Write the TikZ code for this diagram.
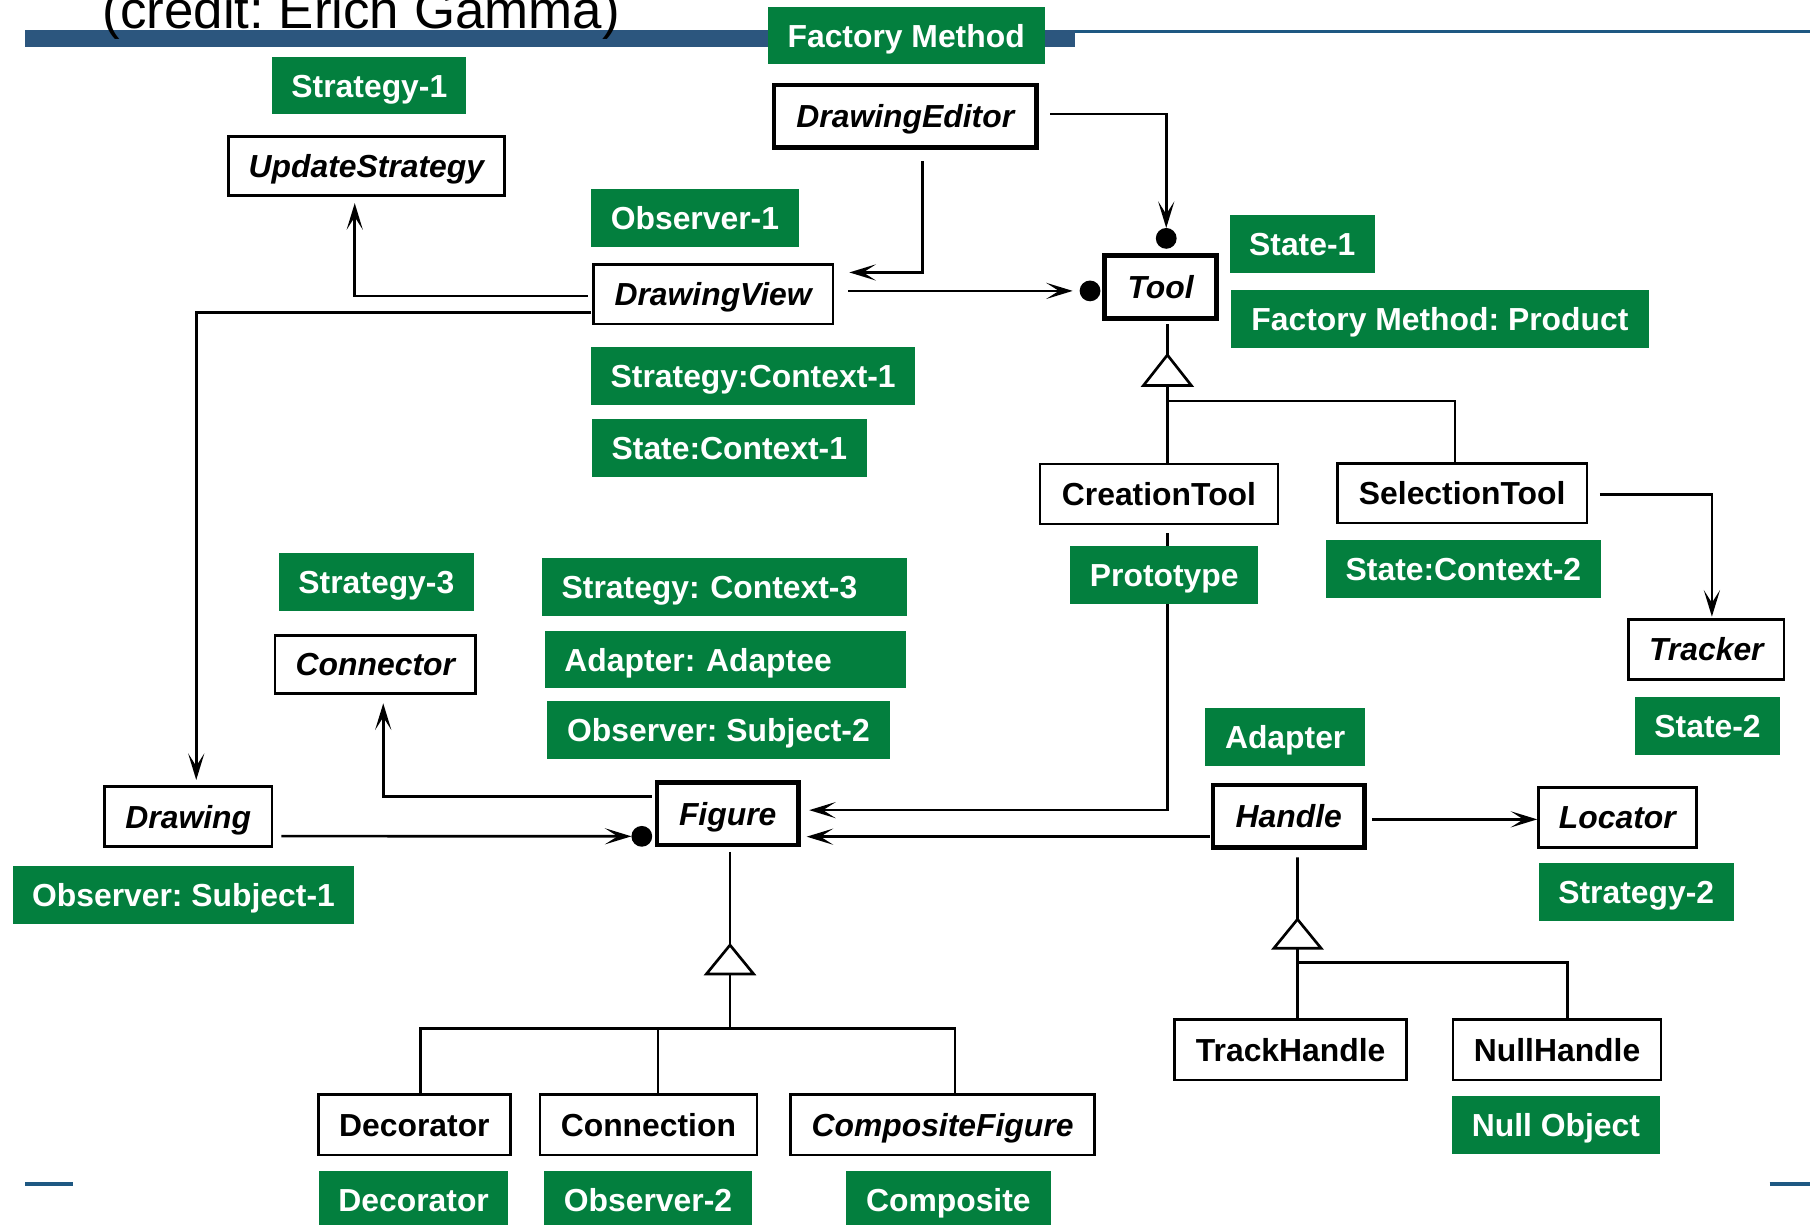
\documentclass[tikz,border=0pt]{standalone}
\usepackage{fontspec}
\setmainfont{Liberation Sans}
\usetikzlibrary{arrows.meta,calc}
\definecolor{tagGreen}{RGB}{3,127,62}
\definecolor{barBlue}{RGB}{44,86,126}
\definecolor{ruleBlue}{RGB}{30,88,130}
\newcommand{\umlfont}{\fontsize{13.8}{16}\selectfont\bfseries}
\frenchspacing

\begin{document}
\begin{tikzpicture}[x=0.5pt,y=-0.5pt,
  every node/.style={inner sep=0pt,outer sep=0pt},
  wh/.style 2 args={minimum width=#1*0.5pt,minimum height=#2*0.5pt},
  uml/.style={draw=black,fill=white,line width=1.15pt,font=\umlfont,
              text height=9.9pt,text depth=0pt},
  umlthick/.style={uml,line width=2pt},
  abstract/.style={font=\umlfont\itshape},
  tag/.style={fill=tagGreen,text=white,font=\umlfont,text height=9.9pt,text depth=0pt},
  tagleft/.style={tag,align=left,text width=#1*0.5pt},
  assoc/.style={line width=1.15pt,-{Stealth[length=11.5pt,width=7pt,inset=5.5pt]}},
  plain/.style={line width=1.15pt},
  gen/.style={draw=black,fill=white,line width=1.15pt},
  joint/.style={circle,fill=black,minimum size=9pt}
]
\useasboundingbox (0,0) rectangle (1568,1061);
\clip (0,0) rectangle (1568,1061);

% header rule and credit line
\fill[barBlue] (22,26) rectangle (931,40.4);
\draw[ruleBlue,line width=1.45pt] (931,27.45) -- (1568,27.45);
\node[anchor=base west,font=\fontsize{22.9}{26}\selectfont] (credit) at (89,24.7) {(credit: Erich Gamma)};

% footer marks
\draw[ruleBlue,line width=1.5pt] (22,1025.5) -- (63,1025.5);
\draw[ruleBlue,line width=1.5pt] (1533,1025.5) -- (1568,1025.5);

% classes
\node[umlthick,abstract,wh={227.5}{54.4}] (DE) at (784.25,100.8) {DrawingEditor};
\node[uml,abstract,wh={238.8}{51.4}] (US) at (317.4,143.7) {UpdateStrategy};
\node[uml,abstract,wh={207.5}{51.6}] (DV) at (617.75,254.8) {DrawingView};
\node[umlthick,abstract,wh={97}{54.3}] (Tool) at (1005.5,248.65) {Tool};
\node[uml,wh={206}{52}] (CT) at (1004,428) {CreationTool};
\node[uml,wh={216.2}{51.2}] (ST) at (1266.7,427.4) {SelectionTool};
\node[uml,abstract,wh={134.4}{52}] (Tr) at (1478.2,562.7) {Tracker};
\node[uml,abstract,wh={173.7}{50.7}] (Con) at (325.15,575.65) {Connector};
\node[uml,abstract,wh={145.2}{51.7}] (Dr) at (163.1,707.45) {Drawing};
\node[umlthick,abstract,wh={122.8}{54.3}] (Fig) at (630.4,704.85) {Figure};
\node[umlthick,abstract,wh={131.1}{54.4}] (Han) at (1116.45,707.2) {Handle};
\node[uml,abstract,wh={136.7}{51.9}] (Loc) at (1401.05,707.95) {Locator};
\node[uml,wh={201.2}{52.3}] (TH) at (1118.1,909.35) {TrackHandle};
\node[uml,wh={180.3}{52.3}] (NH) at (1348.85,909.35) {NullHandle};
\node[uml,wh={166}{52.5}] (Dec) at (359,974.25) {Decorator};
\node[uml,wh={188}{52.5}] (Cn) at (561.7,974.25) {Connection};
\node[uml,abstract,wh={263}{52.5}] (CF) at (816.5,974.25) {CompositeFigure};

% association ends
\node[joint] (dT) at (1010.3,206.5) {};
\node[joint] (dL) at (944.3,252) {};
\node[joint] (dF) at (556,724.5) {};

% associations
\draw[assoc] ($(DE.east)+(12,-2)$) -| (dT.north);
\draw[assoc] ($(DE.south)+(15,11.5)$) |- ($(DV.north east)+(14.3,7)$);
\draw[assoc,shorten >=3pt] ($(DV.east)+(13.5,-2.8)$) -- (dL.west);
\draw[assoc] ($(DV.west)+(-5,1.7)$) -| ($(US.south)+(-10.1,6.6)$);
\draw[assoc] ($(DV.west)+(-2,15.8)$) -| ($(Dr.north)+(6.9,-5.9)$);
\draw[assoc] ($(Dr.east)+(8,16.85)$) -- (dF.west);
\draw[assoc] ($(Fig.west)+(-4.5,-14.65)$) -| ($(Con.south)+(6.85,8.3)$);
\draw[assoc] ($(CT.south)+(7.5,8)$) |- ($(Fig.east)+(9.2,-3.05)$);
\draw[assoc] ($(Han.west)+(-3,17.6)$) -- ($(Fig.east)+(7,19.95)$);
\draw[assoc] ($(Han.east)+(6.6,2.6)$) -- ($(Loc.west)+(-1,1.85)$);
\draw[assoc] ($(ST.east)+(11.2,1.2)$) -| ($(Tr.north)+(4.8,-2.5)$);

% Tool hierarchy
\coordinate (t1) at (1011.3,307.5);
\draw[plain] ($(Tool.south)+(5.8,5)$) -- (t1);
\draw[plain] ($(t1)+(0,26.5)$) -- (t1 |- CT.north);
\draw[plain] ($(t1)+(0,40)$) -| ($(ST.north)+(-6.2,0)$);
\draw[gen] (t1) -- ++(-20.8,26.5) -- ++(41.6,0) -- cycle;

% Figure hierarchy
\coordinate (t2) at (632.4,818.7);
\draw[plain] ($(Fig.south)+(2,6)$) -- (t2);
\draw[plain] ($(t2)+(0,25.1)$) -- (632.4,890.9);
\draw[plain] ($(Dec.north)+(5.3,0)$) |- ($(CF.north)+(10.8,-57.1)$) -- ($(CF.north)+(10.8,0)$);
\draw[plain] ($(Cn.north)+(8.3,0)$) -- ++(0,-57.1);
\draw[gen] (t2) -- ++(-20.5,25.1) -- ++(41,0) -- cycle;

% Handle hierarchy
\coordinate (t3) at (1124,796.4);
\draw[plain] ($(Han.south)+(7.5,8.3)$) -- (t3);
\draw[plain] ($(t3)+(0,25.1)$) -- (t3 |- TH.north);
\draw[plain] ($(t3)+(0,37.3)$) -| ($(NH.north)+(9,0)$);
\draw[gen] (t3) -- ++(-20.5,25.1) -- ++(41,0) -- cycle;

% pattern roles
\node[tag,wh={240}{49.7}] (lFM) at (785,30.85) {Factory Method};
\node[tag,wh={168}{49.3}] (lS1) at (320,74.35) {Strategy-1};
\node[tag,wh={180}{49.7}] (lO1) at (602,188.85) {Observer-1};
\node[tag,wh={125.3}{49.9}] (lSt1) at (1128.15,211.25) {State-1};
\node[tag,wh={362}{50}] (lFMP) at (1247.4,276.2) {Factory Method: Product};
\node[tag,wh={281}{50}] (lSC1) at (652.5,325.9) {Strategy:Context-1};
\node[tag,wh={237.7}{50}] (lStC1) at (631.85,388) {State:Context-1};
\node[tag,wh={162.8}{50}] (lProto) at (1008.6,498) {Prototype};
\node[tag,wh={237.9}{50}] (lStC2) at (1267.75,492.8) {State:Context-2};
\node[tag,wh={168.9}{49.6}] (lS3) at (326.05,504.2) {Strategy-3};
\node[tagleft=282.4,wh={316.4}{49.7}] (lSC3) at (627.8,508.55) {Strategy: Context-3};
\node[tagleft=279,wh={313}{49.6}] (lAA) at (628.5,571.5) {Adapter: Adaptee};
\node[tag,wh={296.8}{50.2}] (lOS2) at (622.4,632.4) {Observer: Subject-2};
\node[tag,wh={138.7}{49.9}] (lAd) at (1113.35,638.35) {Adapter};
\node[tag,wh={125.5}{50}] (lSt2) at (1479.25,628.8) {State-2};
\node[tag,wh={295.9}{50.3}] (lOS1) at (158.95,775.35) {Observer: Subject-1};
\node[tag,wh={169}{50}] (lS2) at (1417.5,772.6) {Strategy-2};
\node[tag,wh={180.3}{50.2}] (lNO) at (1347.85,974.6) {Null Object};
\node[tag,wh={164.1}{49.4}] (lDec) at (358.35,1039.3) {Decorator};
\node[tag,wh={180.7}{49.4}] (lO2) at (561.35,1039.3) {Observer-2};
\node[tag,wh={177.5}{49.4}] (lComp) at (821.55,1039.3) {Composite};
\end{tikzpicture}
\end{document}
